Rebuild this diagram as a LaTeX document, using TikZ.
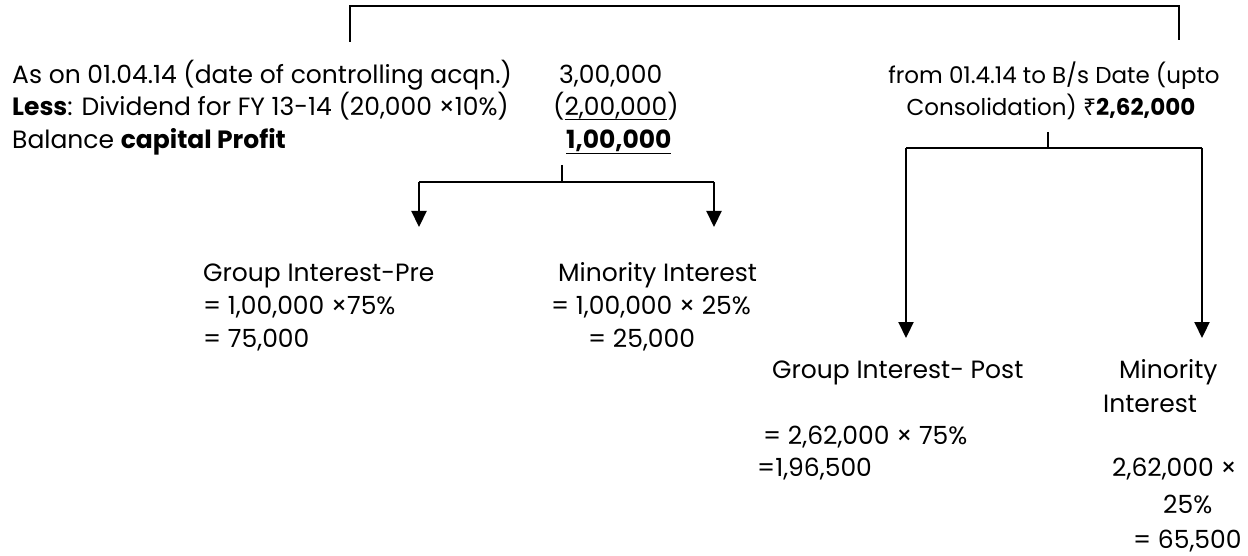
\documentclass[tikz,border=0pt]{standalone}
\usepackage{fontspec}
\setmainfont{Poppins}
\newfontfamily\rupeefont{Noto Sans}
\usetikzlibrary{arrows.meta}
\newcommand\myul[2]{\setbox0\hbox{#2}\rlap{\rule[-#1]{\wd0}{1.3pt}}\box0}
\begin{document}
\begin{tikzpicture}[x=1pt,y=-1pt,
  txt/.style={anchor=base west,inner sep=0pt,font=\fontsize{25}{30}\selectfont},
  ctxt/.style={anchor=base,inner sep=0pt,font=\fontsize{23}{28}\selectfont},
  brk/.style={line width=1.5pt},
  arr/.style={line width=2.2pt,-{Triangle[width=15pt,length=16pt]}}]
\useasboundingbox (0,0) rectangle (1248,556);
% top bracket
\coordinate (bl) at (350,42);
\coordinate (br) at (1179,40);
\coordinate (bt) at (1179,6);
\draw[brk] (bl) |- (bt) -- (br);
% left block
\node[txt] (l1) at (12,84) {As on 01.04.14 (date of controlling acqn.)};
\node[txt] (l1v) at (559,84) {3,00,000};
\node[txt] (l2) at (12,116) {\textbf{Less}: Dividend for FY 13-14 (20,000 ×10\%)};
\node[txt] (l2v) at (553,116) {(\myul{4pt}{2,00,000})};
\node[txt] (l3) at (12,149) {Balance \textbf{capital Profit}};
\node[txt] (l3v) at (566,149) {\myul{5pt}{\textbf{1,00,000}}};
% right block
\node[ctxt] (r1) at (1054,84) {from 01.4.14 to B/s Date (upto};
\node[ctxt] (r2) at (1051,116) {Consolidation) {\rupeefont ₹}\textbf{2,62,000}};
% left split
\coordinate (lc) at (562,165);
\coordinate (ls) at (562,182);
\coordinate (lsa) at (419,182);
\coordinate (lsb) at (714,182);
\coordinate (lta) at (419,227);
\coordinate (ltb) at (714,227);
\draw[brk] (lc) -- (ls);
\draw[brk] (lsa) -- (lsb);
\draw[arr] (lsa) -- (lta);
\draw[arr] (lsb) -- (ltb);
% right split
\coordinate (rc) at (1048,132);
\coordinate (rs) at (1048,148);
\coordinate (rsa) at (906,148);
\coordinate (rsb) at (1202,148);
\coordinate (rta) at (906,338);
\coordinate (rtb) at (1202,338);
\draw[brk] (rc) -- (rs);
\draw[brk] (rsa) -- (rsb);
\draw[arr] (rsa) -- (rta);
\draw[arr] (rsb) -- (rtb);
% left children
\node[txt] (ga1) at (203,282) {Group Interest-Pre};
\node[txt] (ga2) at (203,314) {= 1,00,000 ×75\%};
\node[txt] (ga3) at (203,347) {= 75,000};
\node[txt] (ma1) at (558,282) {Minority Interest};
\node[txt] (ma2) at (551,314) {= 1,00,000 × 25\%};
\node[txt] (ma3) at (588,347) {= 25,000};
% right children
\node[txt] (gb1) at (772,378) {Group Interest- Post};
\node[txt] (gb2) at (763,444) {= 2,62,000 × 75\%};
\node[txt] (gb3) at (757,476) {=1,96,500};
\node[txt] (mb1) at (1119,378) {Minority};
\node[txt] (mb2) at (1103,412) {Interest};
\node[txt] (mb3) at (1112,476) {2,62,000 ×};
\node[txt] (mb4) at (1163,513) {25\%};
\node[txt] (mb5) at (1133,548) {= 65,500};
\end{tikzpicture}
\end{document}
